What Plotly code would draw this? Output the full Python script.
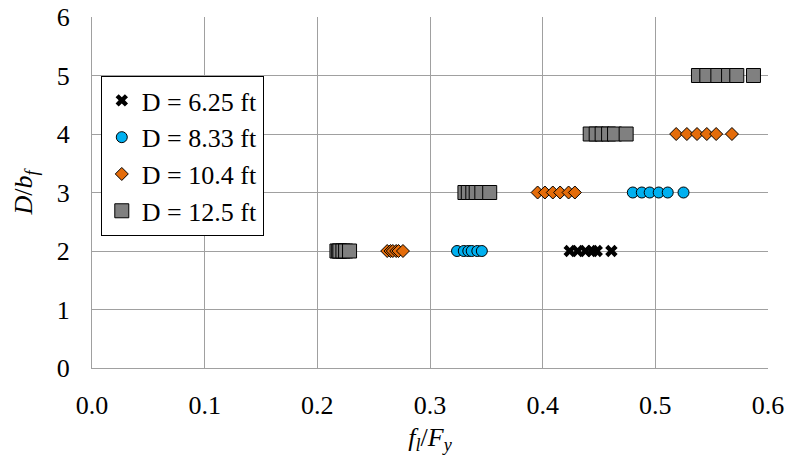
import plotly.graph_objects as go

# D = 6.25 ft
d625_x = [0.424, 0.431, 0.438, 0.444, 0.448, 0.461]
d625_y = [2, 2, 2, 2, 2, 2]

# D = 8.33 ft
d833_x = [0.324, 0.330, 0.334, 0.337, 0.342, 0.346,
          0.480, 0.488, 0.495, 0.503, 0.511, 0.525]
d833_y = [2, 2, 2, 2, 2, 2,
          3, 3, 3, 3, 3, 3]

# D = 10.4 ft
d104_x = [0.262, 0.265, 0.267, 0.270, 0.272, 0.276,
          0.3955, 0.402, 0.409, 0.4155, 0.423, 0.4286,
          0.5185, 0.528, 0.537, 0.5457, 0.554, 0.568]
d104_y = [2, 2, 2, 2, 2, 2,
          3, 3, 3, 3, 3, 3,
          4, 4, 4, 4, 4, 4]

# D = 12.5 ft
d125_x = [0.2174, 0.219, 0.220, 0.2227, 0.2251, 0.2286,
          0.331, 0.334, 0.338, 0.341, 0.346, 0.353,
          0.4422, 0.4475, 0.4528, 0.4585, 0.4638, 0.4741,
          0.5383, 0.5457, 0.5555, 0.565, 0.5723, 0.5871]
d125_y = [2, 2, 2, 2, 2, 2,
          3, 3, 3, 3, 3, 3,
          4, 4, 4, 4, 4, 4,
          5, 5, 5, 5, 5, 5]

x_ticks = [0.0, 0.1, 0.2, 0.3, 0.4, 0.5, 0.6]
y_ticks = [0, 1, 2, 3, 4, 5, 6]

FONT = "Liberation Serif"
GRID = "#a0a0a0"

fig = go.Figure()
fig.add_trace(go.Scatter(
    x=d625_x, y=d625_y, mode="markers", name="D = 6.25 ft",
    marker=dict(symbol="x", size=11, color="black", line=dict(width=0)),
))
fig.add_trace(go.Scatter(
    x=d833_x, y=d833_y, mode="markers", name="D = 8.33 ft",
    marker=dict(symbol="circle", size=11, color="#00b0f0",
                line=dict(color="black", width=1)),
))
fig.add_trace(go.Scatter(
    x=d104_x, y=d104_y, mode="markers", name="D = 10.4 ft",
    marker=dict(symbol="diamond", size=10, color="#e46c0a",
                line=dict(color="black", width=1)),
))
fig.add_trace(go.Scatter(
    x=d125_x, y=d125_y, mode="markers", name="D = 12.5 ft",
    marker=dict(symbol="square", size=14, color="#808080",
                line=dict(color="black", width=1)),
))

fig.update_layout(
    width=790, height=461,
    margin=dict(l=92, r=22, t=17, b=93),
    paper_bgcolor="white", plot_bgcolor="white",
    font=dict(family=FONT, size=26, color="black"),
    showlegend=True,
    legend=dict(
        x=0.013, y=0.832, xanchor="left", yanchor="top",
        bgcolor="white", bordercolor="black", borderwidth=1,
        font=dict(family=FONT, size=26, color="black"),
        itemwidth=30, tracegroupgap=0,
    ),
    xaxis=dict(
        range=[0, 0.6], tickvals=x_ticks,
        ticktext=[f"{v:.1f}" for v in x_ticks],
        showgrid=True, gridcolor=GRID, gridwidth=1,
        showline=True, linecolor=GRID, linewidth=1,
        zeroline=False, ticks="", ticklabelstandoff=14,
        automargin=False,
        tickfont=dict(family=FONT, size=26),
        title=dict(text="<i>f<sub>l</sub></i>/<i>F<sub>y</sub></i>",
                   font=dict(family=FONT, size=26), standoff=8),
    ),
    yaxis=dict(
        range=[0, 6], tickvals=y_ticks,
        ticktext=[str(v) for v in y_ticks],
        showgrid=True, gridcolor=GRID, gridwidth=1,
        showline=True, linecolor=GRID, linewidth=1,
        zeroline=False, ticks="", ticklabelstandoff=16,
        automargin=False,
        tickfont=dict(family=FONT, size=26),
        title=dict(text="<i>D</i>/<i>b<sub>f</sub></i>",
                   font=dict(family=FONT, size=26), standoff=16),
    ),
)

fig.write_html("out.html")
